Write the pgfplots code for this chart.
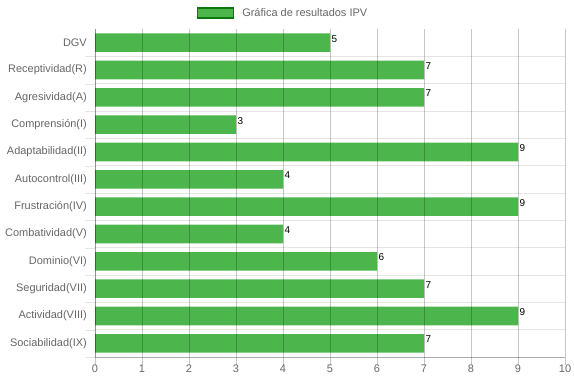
\documentclass[border=0pt]{standalone}
\usepackage{pgfplots}
\pgfplotsset{compat=1.18}
\usepackage{fontspec}
\setmainfont{Liberation Sans}
\definecolor{barfill}{RGB}{76,181,76}
\definecolor{bardark}{RGB}{10,120,10}
\definecolor{lbl}{RGB}{102,102,102}
\begin{document}
\begin{tikzpicture}
\useasboundingbox (0,0) rectangle (574bp,383bp);
\begin{axis}[
  at={(95bp,26bp)}, anchor=south west,
  scale only axis, width=470bp, height=328bp,
  /pgf/number format/assume math mode=true,
  xbar, bar width=0.68,
  xmin=0, xmax=10, ymin=-0.5, ymax=11.5,
  xtick={0,...,10}, ytick={0,...,11},
  minor ytick={-0.5,0.5,...,10.5},
  yticklabels={Sociabilidad(IX),Actividad(VIII),Seguridad(VII),Dominio(VI),Combatividad(V),Frustración(IV),Autocontrol(III),Adaptabilidad(II),Comprensión(I),Agresividad(A),Receptividad(R),DGV},
  axis on top,
  axis x line*=bottom, axis y line*=left,
  axis line style={-, draw=black, draw opacity=0.25},
  xmajorgrids, yminorgrids,
  major grid style={draw=black, draw opacity=0.22},
  minor grid style={draw=black, draw opacity=0.1},
  tick align=outside,
  major tick length=8bp, minor tick length=10bp,
  major x tick style={draw=black, draw opacity=0.22},
  major y tick style={draw=none},
  minor y tick style={draw=black, draw opacity=0.1},
  ticklabel style={font=\fontsize{11}{13}\selectfont, text=lbl},
  yticklabel style={inner xsep=0pt},
  xticklabel style={inner ysep=0pt},
  nodes near coords,
  nodes near coords style={anchor=north west, yshift=9bp, font=\fontsize{10}{12}\selectfont, text=black, inner sep=1.5bp},
  legend style={at={(0.4,1)}, anchor=center, yshift=16bp, draw=none, fill=none, inner sep=0pt, font=\fontsize{11}{13}\selectfont, text=lbl, /tikz/every odd column/.append style={column sep=6bp}},
  legend image code/.code={\draw[fill=barfill, draw=bardark, line width=1.5bp] (0bp,-5bp) rectangle (36bp,5bp);},
]
\addplot[fill=barfill, draw=none] coordinates {
  (7,0) (9,1) (7,2) (6,3) (4,4) (9,5) (4,6) (9,7) (3,8) (7,9) (7,10) (5,11)
};
\addlegendentry{Gráfica de resultados IPV}
\end{axis}
\end{tikzpicture}
\end{document}
